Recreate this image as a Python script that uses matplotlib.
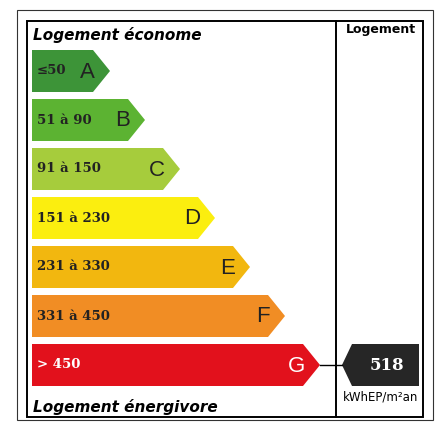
import matplotlib
matplotlib.use("Agg")
import matplotlib.pyplot as plt
from matplotlib.patches import Polygon, Rectangle

# Classes énergie (DPE)
classes = ["A", "B", "C", "D", "E", "F", "G"]
plages = ["≤50", "51 à 90", "91 à 150", "151 à 230", "231 à 330", "331 à 450", "> 450"]
bornes_max = [50, 90, 150, 230, 330, 450, 10**9]
couleurs = ["#3d9438", "#5cb332", "#a6cc3c", "#fbee0f", "#f2b70f", "#f18d24", "#e2111c"]
couleurs_texte = ["#222222"] * 6 + ["white"]
valeur = 518
unite = "kWhEP/m²an"

W, H = 438, 423
fig = plt.figure(figsize=(W / 100, H / 100), dpi=100)
ax = fig.add_axes([0, 0, 1, 1])
ax.set_xlim(0, W)
ax.set_ylim(H, 0)
ax.axis("off")

# cadres
ax.add_patch(Rectangle((17, 10), 416, 410, fill=False, ec="#333333", lw=0.8))
ax.add_patch(Rectangle((27, 21), 396, 396, fill=False, ec="black", lw=1.4))
ax.plot([336, 336], [21, 417], color="black", lw=1.4)

ax.text(33, 35, "Logement économe", fontsize=11, fontweight="bold", style="italic",
        family="DejaVu Sans", va="center", ha="left")
ax.text(33, 407, "Logement énergivore", fontsize=11, fontweight="bold", style="italic",
        family="DejaVu Sans", va="center", ha="left")
ax.text(381, 30, "Logement", fontsize=9, fontweight="bold", family="DejaVu Sans",
        va="center", ha="center")

# barres
x0, haut, pas_y, y_debut = 32, 42, 49, 50
for i, (c, p, col, tc) in enumerate(zip(classes, plages, couleurs, couleurs_texte)):
    y = y_debut + i * pas_y
    pointe = 75 + 35 * (i + 1)
    coin = pointe - 17
    ax.add_patch(Polygon([(x0, y), (coin, y), (pointe, y + haut / 2),
                          (coin, y + haut), (x0, y + haut)], closed=True,
                         fc=col, ec="none"))
    ax.text(x0 + 5, y + haut / 2, p, fontsize=9.5, fontweight="bold", family="DejaVu Serif",
            color=tc, va="center", ha="left")
    ax.text(coin + 2, y + haut / 2 + 1, c, fontsize=16, family="Liberation Sans",
            color=tc, va="center", ha="right")

# flèche de la valeur
idx = next(i for i, b in enumerate(bornes_max) if valeur <= b)
yc = y_debut + idx * pas_y + haut / 2
pointe_g = 75 + 35 * (idx + 1)
ax.plot([pointe_g, 342], [yc, yc], color="black", lw=1)
ax.add_patch(Polygon([(342, yc), (352, yc - 21), (419, yc - 21), (419, yc + 21),
                      (352, yc + 21)], closed=True, fc="#262626", ec="none"))
ax.text(387, yc, str(valeur), fontsize=12, fontweight="bold", family="DejaVu Serif",
        color="white", va="center", ha="center")
ax.text(381, yc + 32, unite, fontsize=8.5, family="DejaVu Sans", va="center", ha="center")

fig.savefig("out.png", dpi=100)
